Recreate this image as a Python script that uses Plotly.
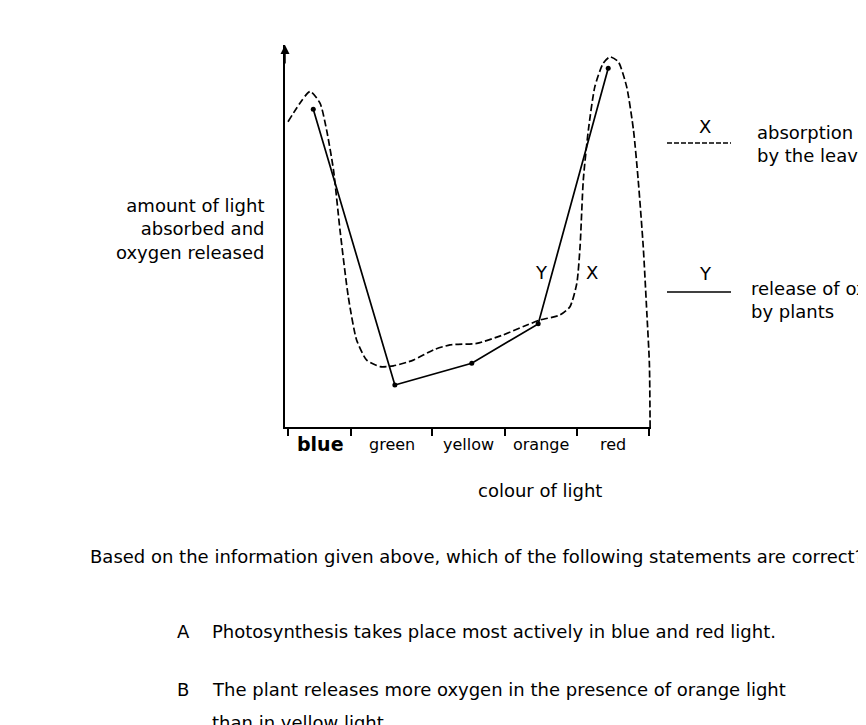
import plotly.graph_objects as go

# ---- data (arbitrary units) ----
colour_bands = ["blue", "green", "yellow", "orange", "red"]
band_edges = [0, 17.5, 39.9, 60.1, 80.1, 100]
band_centres = [8.9, 28.8, 50.1, 70.1, 90.0]

# Y: release of oxygen by plants (solid with dots)
oxygen_x = [7.0, 29.6, 50.9, 69.3, 88.7]
oxygen_y = [83.2, 11.0, 16.7, 27.0, 93.9]

# X: absorption of light by the leaves (dashed curve)
absorb_x = [0.0, 6.1, 8.9, 10.7, 12.6, 14.4, 16.7, 19.0, 21.8, 25.5, 29.2, 34.7,
            40.3, 44.9, 52.3, 59.6, 65.2, 69.8, 75.3, 78.1, 80.0, 80.9, 81.8,
            83.2, 85.0, 87.3, 89.2, 91.5, 93.8, 95.7, 97.0, 98.4, 99.4, 100.1, 100.3]
absorb_y = [79.9, 87.8, 84.7, 77.7, 67.3, 51.6, 34.1, 22.8, 17.5, 15.8, 16.0, 17.5,
            20.2, 21.5, 21.9, 24.1, 26.3, 28.0, 29.3, 31.5, 37.6, 47.2, 64.7,
            77.7, 89.1, 95.2, 96.9, 95.6, 89.1, 77.7, 64.7, 47.2, 29.8, 16.7, 0.0]

FONT = "DejaVu Sans, Liberation Sans, Arial, sans-serif"
OFF = 8  # page body margin
W, H = 866 - OFF, 725 - OFF
L, R, T, B = 285 - OFF, 215, 45 - OFF, 298
PW, PH = W - L - R, H - T - B


def px(xp):
    return (xp - OFF - L) / PW


def py(yp):
    return (H - B - (yp - OFF)) / PH


fig = go.Figure()
fig.add_trace(go.Scatter(
    x=absorb_x, y=absorb_y, mode="lines",
    line=dict(color="black", width=1.7, dash="7px,3px", shape="spline", smoothing=0.6),
    cliponaxis=False, hoverinfo="skip", showlegend=False))
fig.add_trace(go.Scatter(
    x=oxygen_x, y=oxygen_y, mode="lines+markers",
    line=dict(color="black", width=1.7),
    marker=dict(color="black", size=5),
    cliponaxis=False, hoverinfo="skip", showlegend=False))

ann = []
# category labels
for name, xc in zip(colour_bands, band_centres):
    if name == "blue":
        ann.append(dict(x=xc, y=0, xref="x", yref="paper", yanchor="top", yshift=-4,
                        text="<b>blue</b>", showarrow=False,
                        font=dict(family=FONT, size=19, color="black")))
    else:
        ann.append(dict(x=xc, y=0, xref="x", yref="paper", yanchor="top", yshift=-6,
                        text=name, showarrow=False,
                        font=dict(family=FONT, size=16, color="black")))


def txt(x, y, s, size=18, xanchor="left", align="left"):
    ann.append(dict(x=px(x), y=py(y), xref="paper", yref="paper", text=s,
                    showarrow=False, xanchor=xanchor, yanchor="middle", align=align,
                    font=dict(family=FONT, size=size, color="black")))


txt(540, 490, "colour of light", 18, "center")
txt(266, 229, "amount of light<br>absorbed and<br>oxygen released", 18, "right", "right")
txt(541, 272, "Y", 18, "center")
txt(592, 272, "X", 18, "center")
# legend
txt(705, 127, "X", 18, "center")
txt(755, 144, "absorption of light<br>by the leaves", 18)
txt(705, 273, "Y", 18, "center")
txt(749, 300, "release of oxygen<br>by plants", 18)
# question text
txt(88, 556, "Based on the information given above, which of the following statements are correct?", 18)
txt(175, 631, "A", 18)
txt(210, 631, "Photosynthesis takes place most actively in blue and red light.", 18)
txt(175, 689, "B", 18)
txt(210, 689, "The plant releases more oxygen in the presence of orange light", 18)
txt(210, 722, "than in yellow light.", 18)

# y axis arrow head
ann.append(dict(x=0, y=1.0, xref="paper", yref="paper", ax=0, ay=20, text="",
                showarrow=True, arrowhead=2, arrowsize=1.2, arrowwidth=1.5,
                arrowcolor="black"))

shapes = [
    dict(type="line", xref="paper", yref="paper", x0=px(667), x1=px(731),
         y0=py(143), y1=py(143), line=dict(color="black", width=1.3, dash="5px,2px")),
    dict(type="line", xref="paper", yref="paper", x0=px(667), x1=px(731),
         y0=py(292), y1=py(292), line=dict(color="black", width=1.3)),
]

fig.update_layout(
    width=W, height=H, margin=dict(l=L, r=R, t=T, b=B),
    paper_bgcolor="white", plot_bgcolor="white",
    xaxis=dict(range=[-0.83, 100.55], tickvals=band_edges, ticktext=[""] * 6,
               ticks="outside", ticklen=7, tickwidth=1.5, tickcolor="black",
               showline=True, linecolor="black", linewidth=1.7,
               showgrid=False, zeroline=False, fixedrange=True),
    yaxis=dict(range=[0, 100], showticklabels=False, ticks="",
               showline=True, linecolor="black", linewidth=1.7,
               showgrid=False, zeroline=False, fixedrange=True),
    annotations=ann, shapes=shapes, showlegend=False,
)
fig.write_html("out.html")
